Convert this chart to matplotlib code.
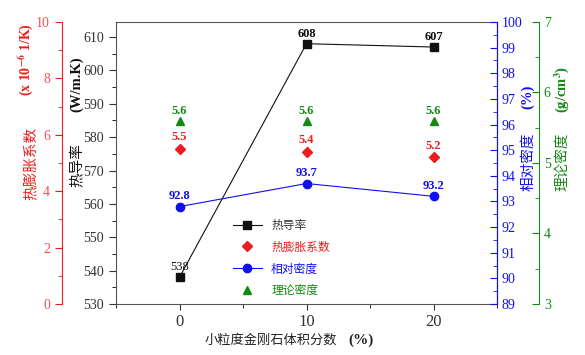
import matplotlib
matplotlib.use("Agg")
import matplotlib.pyplot as plt
from matplotlib.ticker import MultipleLocator

plt.rcParams["font.family"] = ["Liberation Serif", "Noto Sans CJK SC"]
plt.rcParams["mathtext.fontset"] = "stix"

# 数据
fraction = [0, 10, 20]                 # 小粒度金刚石体积分数 (%)
conductivity = [538, 608, 607]         # 热导率 W/m.K
cte = [5.5, 5.4, 5.2]                  # 热膨胀系数 x10^-6 1/K
rel_density = [92.8, 93.7, 93.2]       # 相对密度 %
theo_density = [5.6, 5.6, 5.6]         # 理论密度 g/cm3
x_ticks = [0, 10, 20]

RED = "#ee1c1c"
BLUE = "#1010ee"
GREEN = "#138a13"
BLACK = "#111111"
CJK = ["Noto Sans CJK SC", "Liberation Serif"]
SERIF = ["Liberation Serif", "Noto Sans CJK SC"]

W, H = 585, 355
fig = plt.figure(figsize=(W / 100, H / 100), dpi=100)
ax = fig.add_axes([116 / W, 1 - 304 / H, (497 - 116) / W, (304 - 22) / H])

# ── 主轴：热导率 ──
l1, = ax.plot(fraction, conductivity, color=BLACK, lw=0.8, marker="s", ms=6,
              label="热导率")
ax.set_xlim(-5, 25)
ax.set_ylim(530, 614.5)
ax.set_xticks(x_ticks)
ax.xaxis.set_minor_locator(MultipleLocator(5))
ax.yaxis.set_major_locator(MultipleLocator(10))
ax.yaxis.set_minor_locator(MultipleLocator(5))
ax.tick_params(axis="both", labelsize=10, colors="#333333", direction="out")
ax.tick_params(axis="x", length=4, labelsize=12)
ax.tick_params(axis="y", length=5, right=False)
ax.tick_params(which="minor", length=3)
for s in ["top", "left", "bottom"]:
    ax.spines[s].set_color("#555555")
for x, v in zip(fraction, conductivity):
    ax.annotate(str(v), (x, v), xytext=(0, 3), textcoords="offset points",
                ha="center", va="bottom", fontsize=9,
                fontweight="normal" if v < 600 else "bold", color=BLACK)

# ── 红轴：热膨胀系数 ──
ax_r = ax.twinx()
l2, = ax_r.plot(fraction, cte, color=RED, ls="none", marker="D", ms=5.5,
                label="热膨胀系数")
ax_r.set_ylim(0, 10)
ax_r.yaxis.set_ticks_position("left")
ax_r.spines["left"].set_position(("axes", -0.142))
ax_r.spines["left"].set_visible(True)
ax_r.spines["left"].set_color(RED)
for s in ["right", "top", "bottom"]:
    ax_r.spines[s].set_visible(False)
ax_r.yaxis.set_major_locator(MultipleLocator(2))
ax_r.yaxis.set_minor_locator(MultipleLocator(1))
ax_r.tick_params(axis="y", which="both", colors=RED, labelsize=10,
                 direction="out", labelcolor="#f05050")
ax_r.tick_params(which="major", length=5)
ax_r.tick_params(which="minor", length=3)
for x, v in zip(fraction, cte):
    ax_r.annotate(f"{v}", (x, v), xytext=(0, 4), textcoords="offset points",
                  ha="center", va="bottom", fontsize=9, fontweight="bold",
                  color=RED)

# ── 蓝轴：相对密度 ──
ax_b = ax.twinx()
l3, = ax_b.plot(fraction, rel_density, color=BLUE, lw=0.8, marker="o", ms=6,
                label="相对密度")
ax_b.set_ylim(89, 100)
ax_b.spines["right"].set_color(BLUE)
for s in ["left", "top", "bottom"]:
    ax_b.spines[s].set_visible(False)
ax_b.yaxis.set_major_locator(MultipleLocator(1))
ax_b.yaxis.set_minor_locator(MultipleLocator(0.5))
ax_b.tick_params(axis="y", which="both", colors=BLUE, labelsize=10,
                 direction="in")
ax_b.tick_params(which="major", length=5)
ax_b.tick_params(which="minor", length=3)
for x, v in zip(fraction, rel_density):
    ax_b.annotate(f"{v}", (x, v), xytext=(0, 3), textcoords="offset points",
                  ha="center", va="bottom", fontsize=9, fontweight="bold",
                  color=BLUE)

# ── 绿轴：理论密度 ──
ax_g = ax.twinx()
l4, = ax_g.plot(fraction, theo_density, color=GREEN, ls="none", marker="^",
                ms=6, label="理论密度")
ax_g.set_ylim(3, 7)
ax_g.spines["right"].set_position(("axes", 1.11))
ax_g.spines["right"].set_color(GREEN)
for s in ["left", "top", "bottom"]:
    ax_g.spines[s].set_visible(False)
ax_g.yaxis.set_major_locator(MultipleLocator(1))
ax_g.yaxis.set_minor_locator(MultipleLocator(0.5))
ax_g.tick_params(axis="y", which="both", colors=GREEN, labelsize=10,
                 direction="in")
ax_g.tick_params(which="major", length=5)
ax_g.tick_params(which="minor", length=3)
for x, v in zip(fraction, theo_density):
    ax_g.annotate(f"{v}", (x, v), xytext=(0, 3), textcoords="offset points",
                  ha="center", va="bottom", fontsize=9, fontweight="bold",
                  color=GREEN)

# 图例
leg = ax_g.legend(handles=[l1, l2, l3, l4], loc="upper left",
                  bbox_to_anchor=(0.28, 0.34), frameon=False,
                  prop={"family": CJK, "size": 8.5}, handlelength=2.4,
                  labelspacing=0.75, handletextpad=0.8)
for t, c in zip(leg.get_texts(), ["#333333", RED, BLUE, GREEN]):
    t.set_color(c)


# 轴标题（中文常规 + 单位加粗）
def ftext(px, py, s, color, rot=90, bold=False, size=10.5, family=CJK):
    fig.text(px / W, 1 - py / H, s, rotation=rot, ha="center", va="center",
             color=color, fontsize=size, family=family,
             fontweight="bold" if bold else "normal")


ftext(31, 163, "热膨胀系数", RED)
ftext(26, 60, r"(x 10$^{\mathbf{-6}}$ 1/K)", RED, bold=True, size=10,
      family=SERIF)
ftext(78, 165, "热导率", BLACK)
ftext(77, 84, "(W/m.K)", BLACK, bold=True, family=SERIF)
ftext(528, 162, "相对密度", BLUE)
ftext(528, 97, "(%)", BLUE, bold=True, family=SERIF)
ftext(562, 162, "理论密度", GREEN)
ftext(562, 89, r"(g/cm$^{\mathbf{3}}$)", GREEN, bold=True, family=SERIF)
ftext(271, 340, "小粒度金刚石体积分数", "#222222", rot=0, size=9.5)
ftext(361, 340, "(%)", "#222222", rot=0, bold=True, size=11, family=SERIF)

fig.savefig("out.png", dpi=100, facecolor="white")
